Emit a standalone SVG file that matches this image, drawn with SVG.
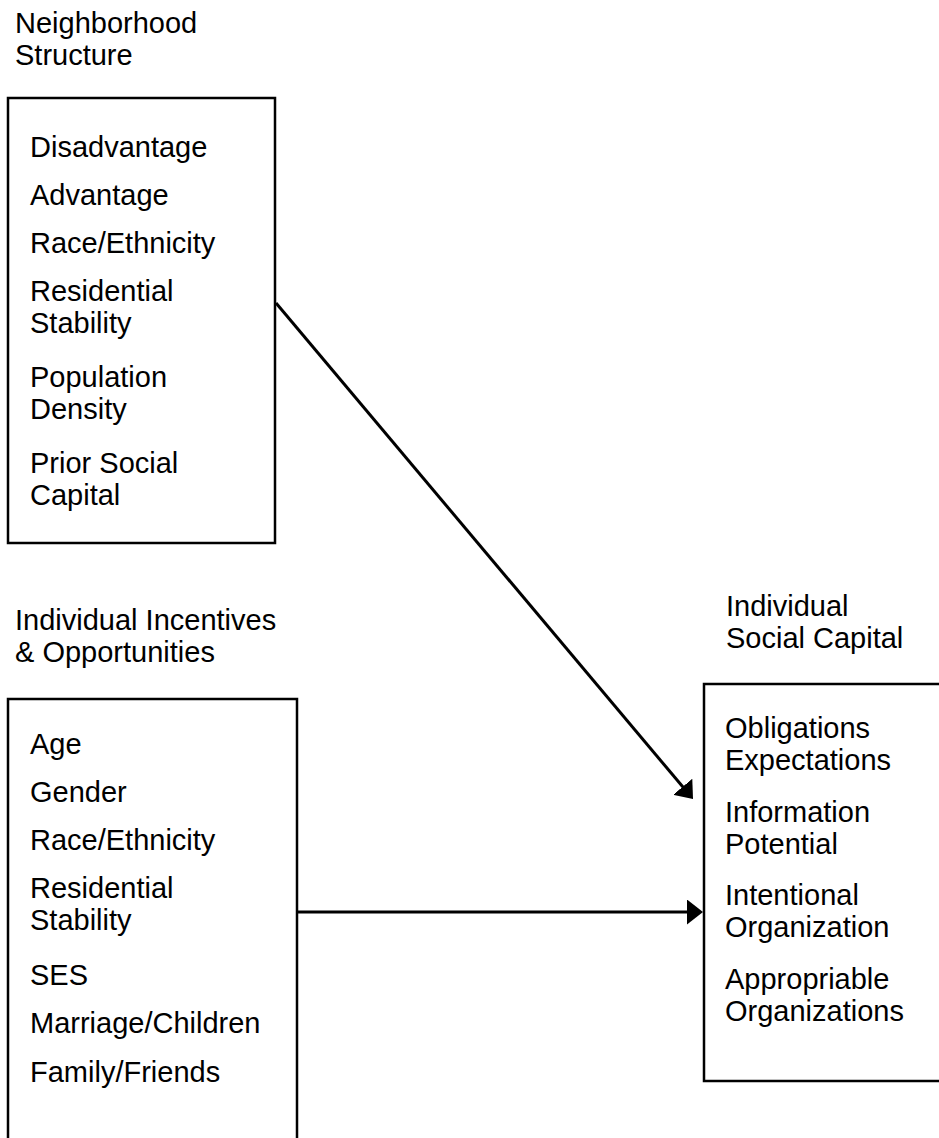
<svg xmlns="http://www.w3.org/2000/svg" width="939" height="1138" viewBox="0 0 939 1138">
  <style>
    text { font-family: "Liberation Sans", Arial, sans-serif; font-size: 29px; fill: #000; }
    .box { fill: #fff; stroke: #000; stroke-width: 2.5; }
    .link { fill: none; stroke: #000; stroke-width: 3; }
  </style>
  <defs>
    <marker id="arrow" viewBox="0 0 16 25" refX="2" refY="12.5" markerWidth="16" markerHeight="25" markerUnits="userSpaceOnUse" orient="auto">
      <path d="M0,0 L16,12.5 L0,25 Z" fill="#000"/>
    </marker>
  </defs>
  <rect width="939" height="1138" fill="#fff"/>

  <!-- Neighborhood structure -->
  <g id="neighborhood">
    <text x="15" y="33">Neighborhood</text>
    <text x="15" y="65">Structure</text>
    <rect class="box" x="8" y="98" width="267" height="445"/>
    <text x="30" y="157">Disadvantage</text>
    <text x="30" y="205">Advantage</text>
    <text x="30" y="253">Race/Ethnicity</text>
    <text x="30" y="301">Residential</text>
    <text x="30" y="333">Stability</text>
    <text x="30" y="387">Population</text>
    <text x="30" y="419">Density</text>
    <text x="30" y="473">Prior Social</text>
    <text x="30" y="505">Capital</text>
  </g>

  <!-- Individual incentives -->
  <g id="incentives">
    <text x="15" y="630">Individual Incentives</text>
    <text x="15" y="662">&amp; Opportunities</text>
    <rect class="box" x="8" y="699" width="289" height="460"/>
    <text x="30" y="754">Age</text>
    <text x="30" y="802">Gender</text>
    <text x="30" y="850">Race/Ethnicity</text>
    <text x="30" y="898">Residential</text>
    <text x="30" y="930">Stability</text>
    <text x="30" y="985">SES</text>
    <text x="30" y="1033">Marriage/Children</text>
    <text x="30" y="1082">Family/Friends</text>
  </g>

  <!-- Individual social capital -->
  <g id="social-capital">
    <text x="726" y="616">Individual</text>
    <text x="726" y="648">Social Capital</text>
    <rect class="box" x="704" y="684" width="260" height="397"/>
    <text x="725" y="738">Obligations</text>
    <text x="725" y="770">Expectations</text>
    <text x="725" y="822">Information</text>
    <text x="725" y="854">Potential</text>
    <text x="725" y="905">Intentional</text>
    <text x="725" y="937">Organization</text>
    <text x="725" y="989">Appropriable</text>
    <text x="725" y="1021">Organizations</text>
  </g>

  <g id="connectors">
    <line class="link" x1="276" y1="303" x2="684" y2="788.3" marker-end="url(#arrow)"/>
    <line class="link" x1="298" y1="912" x2="689" y2="912" marker-end="url(#arrow)"/>
  </g>
</svg>
